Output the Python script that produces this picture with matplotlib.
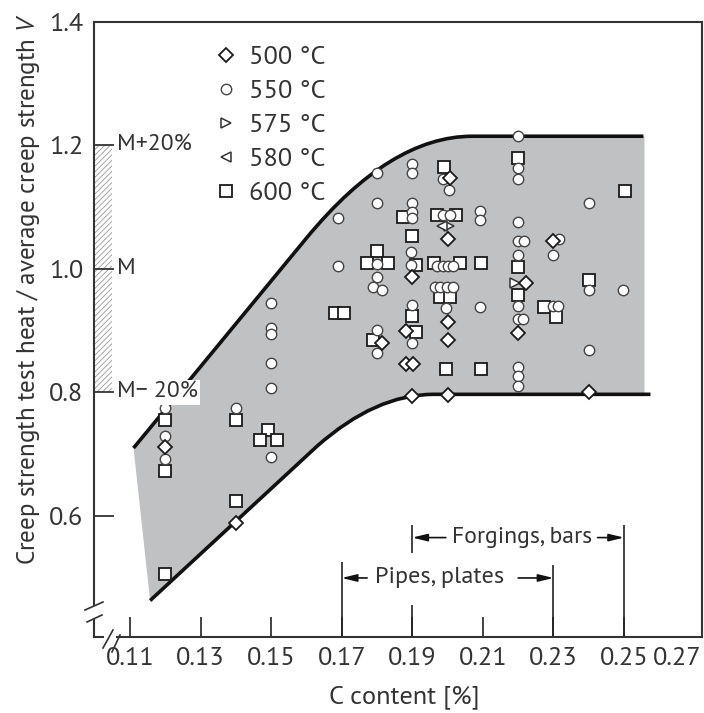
import matplotlib
matplotlib.use("Agg")
import matplotlib.pyplot as plt
from matplotlib.path import Path
from matplotlib.patches import PathPatch, Rectangle
from matplotlib.transforms import ScaledTranslation

plt.rcParams['font.family'] = ['PT Sans', 'DejaVu Sans']
plt.rcParams['mathtext.fontset'] = 'custom'
plt.rcParams['mathtext.rm'] = 'PT Sans'
plt.rcParams['mathtext.it'] = 'PT Sans:italic'
plt.rcParams['hatch.linewidth'] = 0.6

# 500 degC (diamonds)
c500 = [0.120, 0.140, 0.1815, 0.190, 0.1882, 0.1882, 0.1902, 0.190, 0.2007, 0.200,
        0.200, 0.200, 0.200, 0.2222, 0.220, 0.2299, 0.240]
v500 = [0.711, 0.589, 0.880, 0.987, 0.900, 0.846, 0.846, 0.794, 1.147, 1.049,
        0.914, 0.885, 0.796, 0.977, 0.896, 1.045, 0.800]

# 550 degC (circles)
c550 = [0.120, 0.120, 0.120,
        0.140,
        0.150, 0.150, 0.150, 0.150, 0.150, 0.150,
        0.169, 0.169,
        0.180, 0.180, 0.180, 0.180, 0.180, 0.180, 0.179, 0.1814,
        0.190, 0.190, 0.190, 0.190, 0.190, 0.1895, 0.1895, 0.190, 0.190,
        0.1986, 0.2003, 0.1986, 0.2006, 0.197, 0.1987, 0.2001, 0.2015,
        0.1964, 0.1979, 0.1998, 0.2015, 0.1995,
        0.2092, 0.2092, 0.2092,
        0.220, 0.220, 0.220, 0.220, 0.220, 0.2216, 0.220, 0.220, 0.220, 0.2214,
        0.220, 0.220, 0.220,
        0.2317, 0.2299, 0.2299, 0.2313,
        0.240, 0.240, 0.240,
        0.2497]
v550 = [0.775, 0.730, 0.692,
        0.775,
        0.945, 0.905, 0.895, 0.848, 0.807, 0.695,
        1.082, 1.005,
        1.155, 1.107, 1.008, 0.987, 0.901, 0.864, 0.971, 0.966,
        1.170, 1.155, 1.107, 1.092, 1.083, 1.027, 1.006, 0.942, 0.880,
        1.146, 1.128, 1.087, 1.087, 1.005, 1.005, 1.005, 1.005,
        0.971, 0.971, 0.971, 0.971, 0.937,
        1.094, 1.079, 0.938,
        1.215, 1.164, 1.146, 1.076, 1.045, 1.045, 1.023, 0.940, 0.919, 0.919,
        0.841, 0.827, 0.811,
        1.048, 1.023, 0.940, 0.940,
        1.107, 0.966, 0.869,
        0.966]

# 575 degC / 580 degC (triangles)
c575 = [0.2005, 0.2192]
v575 = [1.070, 0.977]
c580 = [0.1985]
v580 = [1.070]

# 600 degC (squares)
c600 = [0.120, 0.120, 0.120, 0.140, 0.140, 0.149, 0.1468, 0.1517, 0.168, 0.1706,
        0.180, 0.1772, 0.1831, 0.179, 0.1874, 0.190, 0.191, 0.190, 0.191,
        0.199, 0.197, 0.2025, 0.1961, 0.2035, 0.1979, 0.2007, 0.1995,
        0.2095, 0.2095, 0.220, 0.220, 0.220, 0.2273, 0.2306, 0.240, 0.2503]
v600 = [0.755, 0.673, 0.506, 0.755, 0.625, 0.739, 0.723, 0.723, 0.928, 0.928,
        1.029, 1.010, 1.010, 0.885, 1.084, 1.053, 1.006, 0.924, 0.898,
        1.165, 1.087, 1.087, 1.010, 1.010, 0.955, 0.955, 0.838,
        1.010, 0.838, 1.180, 1.003, 0.958, 0.938, 0.922, 0.982, 1.126]

# scatter band envelope
upper_pts = [(0.111, 0.710), (0.160, 1.050), (0.1838, 1.215), (0.207, 1.215), (0.2555, 1.215)]
lower_pts = [(0.1157, 0.463), (0.163, 0.713), (0.1796, 0.797), (0.196, 0.797), (0.2575, 0.797)]
band_right = 0.2558

xticks = [0.11, 0.13, 0.15, 0.17, 0.19, 0.21, 0.23, 0.25, 0.27]
yticks = [0.6, 0.8, 1.0, 1.2, 1.4]
m_levels = [1.2, 1.0, 0.8]
m_labels = ['M+20%', 'M', 'M\u2212 20%']

fig = plt.figure(figsize=(7.04, 7.13), dpi=100)
ax = fig.add_axes([94 / 704, 76 / 713, 608 / 704, 615 / 713])
ax.set_xlim(0.0998, 0.2721)
ax.set_ylim(0.404, 1.4)

# gray band
codes_fwd = [Path.MOVETO, Path.LINETO, Path.CURVE3, Path.CURVE3, Path.LINETO]
verts = list(upper_pts) + [(band_right, upper_pts[-1][1]), (band_right, lower_pts[-1][1])]
verts += [lower_pts[3], lower_pts[2], lower_pts[1], lower_pts[0], (0, 0)]
codes = codes_fwd + [Path.LINETO, Path.LINETO, Path.LINETO, Path.CURVE3, Path.CURVE3,
                     Path.LINETO, Path.CLOSEPOLY]
ax.add_patch(PathPatch(Path(verts, codes), facecolor='#c0c1c3', edgecolor='none', zorder=1))
ax.add_patch(PathPatch(Path(upper_pts, codes_fwd), facecolor='none', edgecolor='#111',
                       lw=2.6, zorder=2, capstyle='butt'))
ax.add_patch(PathPatch(Path(lower_pts, codes_fwd), facecolor='none', edgecolor='#111',
                       lw=2.6, zorder=2, capstyle='butt'))

# data
h600, = ax.plot(c600, v600, 's', ms=8, mfc='white', mec='#1a1a1a', mew=1.3, zorder=3,
                label='600 \u00b0C')
h575, = ax.plot(c575, v575, '>', ms=7, mfc='white', mec='#333', mew=1.1, zorder=4,
                label='575 \u00b0C')
h580, = ax.plot(c580, v580, '<', ms=7, mfc='white', mec='#333', mew=1.1, zorder=4,
                label='580 \u00b0C')
h550, = ax.plot(c550, v550, 'o', ms=7.5, mfc='white', mec='#444', mew=1.0, zorder=5,
                label='550 \u00b0C')
h500, = ax.plot(c500, v500, 'D', ms=7, mfc='white', mec='#1a1a1a', mew=1.3, zorder=6,
                label='500 \u00b0C')

ax.legend(handles=[h500, h550, h575, h580, h600], loc='upper left',
          bbox_to_anchor=(0.199, 0.962), frameon=False, fontsize=19,
          handlelength=0.8, handletextpad=0.5, labelspacing=0.40,
          borderpad=0, borderaxespad=0, labelcolor='#333')

# hatched M +/- 20% bar
ax.add_patch(Rectangle((0.0998, 0.8), 0.0051, 0.4, facecolor='none', edgecolor='#999',
                       hatch='//////', lw=0, zorder=1))
for lvl, lab in zip(m_levels, m_labels):
    ax.text(0.1063, lvl, lab, fontsize=17, ha='left', va='center', color='#333', zorder=7,
            bbox=dict(facecolor='white', edgecolor='none', pad=1.5))

# product ranges
ax.vlines([0.17, 0.23, 0.25], 0.404, [0.5255, 0.5207, 0.5854], color='#222', lw=1.2, zorder=2)
ax.vlines([0.19, 0.19], [0.540, 0.404], [0.5854, 0.4559], color='#222', lw=1.2, zorder=2)
arrow = dict(arrowstyle='-|>,head_length=0.9,head_width=0.22', color='#111', lw=1.2,
             shrinkA=0, shrinkB=0)
ax.annotate('', xy=(0.19, 0.565), xytext=(0.1995, 0.565), arrowprops=arrow)
ax.annotate('', xy=(0.25, 0.565), xytext=(0.2425, 0.565), arrowprops=arrow)
ax.text(0.2211, 0.565, 'Forgings, bars', fontsize=17, ha='center', va='center', color='#333')
ax.annotate('', xy=(0.17, 0.4996), xytext=(0.1772, 0.4996), arrowprops=arrow)
ax.annotate('', xy=(0.23, 0.4996), xytext=(0.2200, 0.4996), arrowprops=arrow)
ax.text(0.1978, 0.4996, 'Pipes, plates', fontsize=17.5, ha='center', va='center', color='#333')

# axes and ticks
ax.set_xticks(xticks)
ax.set_xticklabels([f'{t:.2f}' for t in xticks])
ax.set_yticks(yticks)
ax.set_yticklabels([f'{t:.1f}' for t in yticks])
ax.tick_params(direction='in', length=14.4, width=1.2, color='#222', labelsize=19,
               labelcolor='#333')
ax.tick_params(axis='y', pad=8)
ax.tick_params(axis='x', pad=7)
last = ax.get_xticklabels()[-1]
last.set_transform(last.get_transform() + ScaledTranslation(-0.17, 0, fig.dpi_scale_trans))
ax.xaxis.get_major_ticks()[-1].tick1line.set_visible(False)

for s in ['top', 'right']:
    ax.spines[s].set_linewidth(1.5)
    ax.spines[s].set_color('#333')
ax.spines['left'].set_visible(False)
ax.spines['bottom'].set_visible(False)

# broken left / bottom axes
ak = dict(transform=ax.transAxes, color='#333', lw=1.5, clip_on=False, zorder=8)
ax.plot([0, 0], [1, 0.052], **ak)
ax.plot([0, 0], [0.0293, 0], **ak)
ax.plot([0, 0.0148], [0, 0], **ak)
ax.plot([0.0378, 1], [0, 0], **ak)
bk = dict(transform=ax.transAxes, color='#333', lw=1.2, clip_on=False, zorder=8)
ax.plot([-0.0148, 0.0148], [0.0439, 0.0569], **bk)
ax.plot([-0.0115, 0.0132], [0.0244, 0.0358], **bk)
ax.plot([0.0148, 0.0312], [-0.0179, 0.0114], **bk)
ax.plot([0.0296, 0.0428], [-0.0244, 0.0033], **bk)

ax.set_xlabel('C content [%]', fontsize=19, color='#333')
ax.xaxis.set_label_coords(0.51, -0.078)
ax.set_ylabel('Creep strength test heat / average creep strength $V$', fontsize=18,
              color='#333')
ax.yaxis.set_label_coords(-0.0855, 0.565)

fig.savefig('out.png', dpi=100)
